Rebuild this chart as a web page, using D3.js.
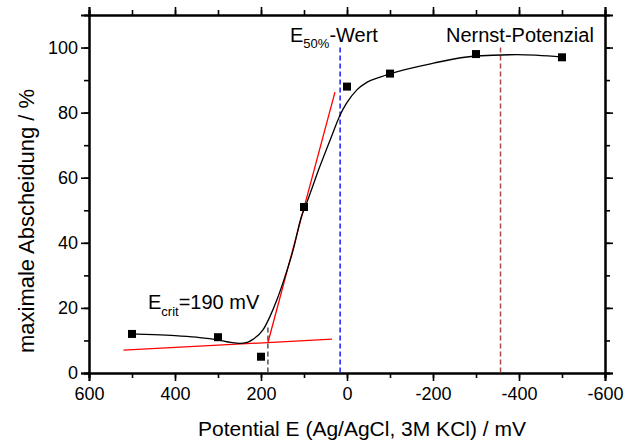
<!DOCTYPE html>
<html>
<head>
<meta charset="utf-8">
<script src="https://cdn.jsdelivr.net/npm/d3@7"></script>
<style>
  body { margin: 0; background: #fff; }
  text { font-family: Arial, "Liberation Sans", sans-serif; fill: #000; }
</style>
</head>
<body>
<div id="chart"></div>
<script>
// Maximale Abscheidung vs. Potential

// Measured points
var potentials = [500, 300, 200, 100, 0, -100, -300, -500];
var deposition = [12, 11, 5, 51, 88, 92, 98, 97];

// Fitted curve
var fitX = [500, 450, 400, 350, 300, 270, 250, 232, 218, 195, 179, 163, 144, 125, 106, 94, 63, 36, 16, 1, -23, -46, -77, -99, -201, -299, -395, -500];
var fitY = [12, 11.8, 11.5, 11, 10.2, 9.4, 9.1, 9.4, 10.4, 13.3, 17.4, 22.5, 29.7, 37.9, 48.1, 52.2, 63.5, 72.7, 79.3, 82.9, 87, 89.3, 90.9, 91.9, 95.2, 97.4, 97.8, 97.05];

// Tangents for E_crit
var baseX = [520, 35];
var baseY = [7, 10.4];
var slopeX = [184, 28];
var slopeY = [9.3, 86.3];

// Marker positions (mV)
var e50 = 16;
var nernst = -357;
var ecrit = 184;

var xTicks = [600, 400, 200, 0, -200, -400, -600];
var yTicks = [0, 20, 40, 60, 80, 100];

var svgWidth = 633;
var svgHeight = 441;
var margin = {top: 15, right: 28, bottom: 68, left: 89};
var chartWidth = svgWidth - margin.left - margin.right;
var chartHeight = svgHeight - margin.top - margin.bottom;

var svg = d3.select("#chart").append("svg")
    .attr("width", svgWidth)
    .attr("height", svgHeight);

var chartGroup = svg.append("g")
    .attr("transform", `translate(${margin.left}, ${margin.top})`);

var x = d3.scaleLinear().domain([600, -600]).range([0, chartWidth]);
var y = d3.scaleLinear().domain([0, 110]).range([chartHeight, 0]);

var xMinor = d3.range(600, -601, -100);
var yMinor = d3.range(0, 101, 10);

// Axes: minor ticks first, then major with labels
function styleAxis(g) {
    g.select(".domain").attr("stroke-width", 2);
    g.selectAll(".tick line").attr("stroke-width", 1.6);
    g.selectAll(".tick text").attr("font-size", "18px");
}

chartGroup.append("g")
    .attr("transform", `translate(0, ${chartHeight})`)
    .call(d3.axisBottom(x).tickValues(xMinor).tickSize(5).tickFormat(""))
    .call(styleAxis);
chartGroup.append("g")
    .attr("transform", `translate(0, ${chartHeight})`)
    .call(d3.axisBottom(x).tickValues(xTicks).tickSize(8).tickPadding(6).tickFormat(d => String(d)))
    .call(styleAxis);

chartGroup.append("g")
    .call(d3.axisTop(x).tickValues(xMinor).tickSize(5).tickFormat(""))
    .call(styleAxis);
chartGroup.append("g")
    .call(d3.axisTop(x).tickValues(xTicks).tickSize(8).tickFormat(""))
    .call(styleAxis);

chartGroup.append("g")
    .call(d3.axisLeft(y).tickValues(yMinor).tickSize(5).tickFormat(""))
    .call(styleAxis);
chartGroup.append("g")
    .call(d3.axisLeft(y).tickValues(yTicks).tickSize(8).tickPadding(3))
    .call(styleAxis);

chartGroup.append("g")
    .attr("transform", `translate(${chartWidth}, 0)`)
    .call(d3.axisRight(y).tickValues(yMinor).tickSize(5).tickFormat(""))
    .call(styleAxis);
chartGroup.append("g")
    .attr("transform", `translate(${chartWidth}, 0)`)
    .call(d3.axisRight(y).tickValues(yTicks).tickSize(8).tickFormat(""))
    .call(styleAxis);

// Dashed marker lines
chartGroup.append("line")
    .attr("x1", x(e50)).attr("x2", x(e50))
    .attr("y1", y(100)).attr("y2", y(0))
    .attr("stroke", "#1a1aff").attr("stroke-width", 1.5)
    .attr("stroke-dasharray", "5,3");

chartGroup.append("line")
    .attr("x1", x(nernst)).attr("x2", x(nernst))
    .attr("y1", y(100)).attr("y2", y(0))
    .attr("stroke", "#a84a4a").attr("stroke-width", 1.5)
    .attr("stroke-dasharray", "5,3");

chartGroup.append("line")
    .attr("x1", x(ecrit)).attr("x2", x(ecrit))
    .attr("y1", y(14)).attr("y2", y(0))
    .attr("stroke", "#555").attr("stroke-width", 1.5)
    .attr("stroke-dasharray", "5,3");

// Tangent lines
var line = d3.line().x(d => x(d[0])).y(d => y(d[1]));

chartGroup.append("path")
    .datum(d3.zip(baseX, baseY))
    .attr("d", line)
    .attr("fill", "none").attr("stroke", "#ff0000").attr("stroke-width", 1.3);

chartGroup.append("path")
    .datum(d3.zip(slopeX, slopeY))
    .attr("d", line)
    .attr("fill", "none").attr("stroke", "#ff0000").attr("stroke-width", 1.3);

// Fit curve
chartGroup.append("path")
    .datum(d3.zip(fitX, fitY))
    .attr("d", line.curve(d3.curveMonotoneX))
    .attr("fill", "none").attr("stroke", "#000").attr("stroke-width", 1.3);

// Data squares
chartGroup.selectAll("rect.pt")
    .data(d3.zip(potentials, deposition))
    .enter()
    .append("rect")
    .attr("class", "pt")
    .attr("x", d => x(d[0]) - 4)
    .attr("y", d => y(d[1]) - 4)
    .attr("width", 8)
    .attr("height", 8)
    .attr("fill", "#000");

// Annotations
var e50Label = chartGroup.append("text")
    .attr("x", 201)
    .attr("y", 27)
    .attr("font-size", "20px");
e50Label.append("tspan").text("E");
e50Label.append("tspan").attr("font-size", "13px").attr("dy", 6).text("50%");
e50Label.append("tspan").attr("dy", -6).text("-Wert");

chartGroup.append("text")
    .attr("x", 357)
    .attr("y", 27)
    .attr("font-size", "20px")
    .text("Nernst-Potenzial");

var critLabel = chartGroup.append("text")
    .attr("x", 59)
    .attr("y", 294)
    .attr("font-size", "20px");
critLabel.append("tspan").text("E");
critLabel.append("tspan").attr("font-size", "13px").attr("dy", 7).text("crit");
critLabel.append("tspan").attr("dy", -7).text("=190 mV");

// Axis labels
svg.append("text")
    .attr("text-anchor", "middle")
    .attr("x", margin.left + chartWidth / 2 + 15)
    .attr("y", 436)
    .attr("font-size", "21px")
    .text("Potential E (Ag/AgCl, 3M KCl) / mV");

svg.append("text")
    .attr("text-anchor", "middle")
    .attr("transform", "translate(34, 221) rotate(-90)")
    .attr("font-size", "22px")
    .text("maximale Abscheidung / %");
</script>
</body>
</html>
